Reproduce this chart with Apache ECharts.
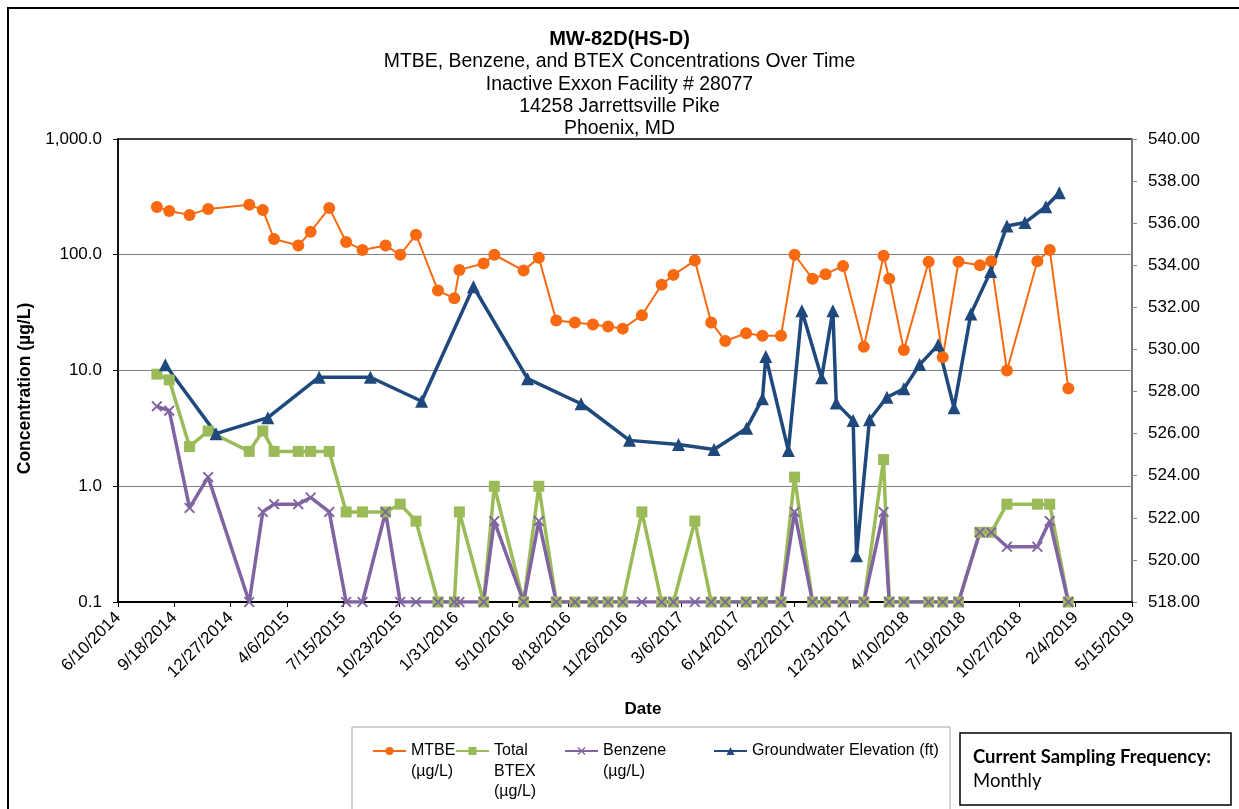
<!DOCTYPE html>
<html>
<head>
<meta charset="utf-8">
<script src="https://cdn.jsdelivr.net/npm/echarts@6/dist/echarts.min.js"></script>
<style>html,body{margin:0;padding:0;background:#fff}#c{width:1239px;height:809px}</style>
</head>
<body>
<div id="c"></div>
<script>
// ---------- data ----------
const sampleDates = ['8/18/2014','9/9/2014','10/15/2014','11/17/2014','1/29/2015','2/22/2015','3/14/2015','4/26/2015','5/18/2015','6/20/2015','7/20/2015','8/18/2015','9/28/2015','10/24/2015','11/21/2015','12/30/2015','1/28/2016','2/6/2016','3/20/2016','4/8/2016','5/30/2016','6/26/2016','7/27/2016','8/29/2016','9/30/2016','10/27/2016','11/22/2016','12/26/2016','1/30/2017','2/20/2017','3/30/2017','4/28/2017','5/23/2017','6/29/2017','7/28/2017','8/30/2017','9/23/2017','10/25/2017','11/17/2017','12/18/2017','1/24/2018','2/28/2018','3/10/2018','4/5/2018','5/19/2018','6/13/2018','7/11/2018','8/18/2018','9/7/2018','10/5/2018','11/28/2018','12/20/2018','1/22/2019'];
const mtbe = [259,239,221,249,270,244,137,120,158,254,129,110,120,100,149,49,42,74,84,100,73,94,27,26,25,24,23,30,55,67,89,26,18,21,20,20,100,62,68,80,16,98,62,15,87,13,87,81,88,10,88,110,7.0];
const totalBtex = [9.3,8.3,2.2,3.0,2.0,3.0,2.0,2.0,2.0,2.0,0.6,0.6,0.6,0.7,0.5,0.1,0.1,0.6,0.1,1.0,0.1,1.0,0.1,0.1,0.1,0.1,0.1,0.6,0.1,0.1,0.5,0.1,0.1,0.1,0.1,0.1,1.2,0.1,0.1,0.1,0.1,1.7,0.1,0.1,0.1,0.1,0.1,0.4,0.4,0.7,0.7,0.7,0.1];
const benzene = [4.9,4.5,0.65,1.2,0.1,0.6,0.7,0.7,0.8,0.6,0.1,0.1,0.6,0.1,0.1,0.1,0.1,0.1,0.1,0.5,0.1,0.5,0.1,0.1,0.1,0.1,0.1,0.1,0.1,0.1,0.1,0.1,0.1,0.1,0.1,0.1,0.6,0.1,0.1,0.1,0.1,0.6,0.1,0.1,0.1,0.1,0.1,0.4,0.4,0.3,0.3,0.5,0.1];
const gwDates = ['9/2/2014','12/1/2014','3/3/2015','6/2/2015','9/1/2015','12/1/2015','3/2/2016','6/6/2016','9/9/2016','12/4/2016','3/1/2017','5/3/2017','6/30/2017','7/28/2017','8/3/2017','9/12/2017','10/6/2017','11/10/2017','11/30/2017','12/6/2017','1/5/2018','1/11/2018','2/3/2018','3/6/2018','4/5/2018','5/3/2018','6/5/2018','7/3/2018','8/2/2018','9/6/2018','10/5/2018','11/6/2018','12/13/2018','1/6/2019'];
const gwElev = [529.27,526.0,526.76,528.68,528.68,527.54,532.98,528.61,527.42,525.68,525.48,525.25,526.26,527.66,529.66,525.2,531.84,528.65,531.84,527.45,526.63,520.2,526.66,527.73,528.13,529.28,530.22,527.23,531.69,533.71,535.87,536.03,536.78,537.45];
const xAxisStart = '6/10/2014';
const xAxisEnd = '5/15/2019';
const xTickDays = 100;
const seriesNames = ['MTBE (µg/L)','Total BTEX (µg/L)','Benzene (µg/L)','Groundwater Elevation (ft)'];
const legendLabels = ['MTBE\n(µg/L)','Total\nBTEX\n(µg/L)','Benzene\n(µg/L)','Groundwater Elevation (ft)'];
const titleText = 'MW-82D(HS-D)';
const subtitleLines = ['MTBE, Benzene, and BTEX Concentrations Over Time','Inactive Exxon Facility # 28077','14258 Jarrettsville Pike','Phoenix, MD'];
const noteTitle = 'Current Sampling Frequency:';
const noteText = 'Monthly';

// ---------- helpers ----------
const DAY = 86400000;
function parseMDY(s){const p=s.split('/').map(Number);return Date.UTC(p[2],p[0]-1,p[1]);}
const base = parseMDY(xAxisStart);
function dayOff(s){return Math.round((parseMDY(s)-base)/DAY);}
function fmtDay(v){const d=new Date(base+Math.round(v)*DAY);return (d.getUTCMonth()+1)+'/'+d.getUTCDate()+'/'+d.getUTCFullYear();}
function fmtConc(v){const s=(Math.round(v*10)/10).toFixed(1);const parts=s.split('.');parts[0]=parts[0].replace(/\B(?=(\d{3})+(?!\d))/g,',');return parts.join('.');}

const FONT = '"Liberation Sans", Arial, sans-serif';
const colors = ['#F76A12','#9BBB59','#8064A2','#1F497D'];
const xSymbol = 'path://M0,1.2L1.2,0L5,3.8L8.8,0L10,1.2L6.2,5L10,8.8L8.8,10L5,6.2L1.2,10L0,8.8L3.8,5Z';

const chart = echarts.init(document.getElementById('c'), null, {renderer:'canvas'});

// legends: one per item; leading blank lines keep the first text line level with the icon
const legendLefts = [372, 455, 564, 713];
const LH = 20.5, ICON_Y = 751;
const legends = legendLabels.map((lab, i) => {
  const n = lab.split('\n').length;
  const shown = n > 1 ? new Array(n).join(' \n') + lab : lab;
  const top = ICON_Y - (2*n-1)*LH/2;
  return {
    data: [seriesNames[i]],
    left: legendLefts[i], top: top, padding: 0,
    itemWidth: 33, itemHeight: 10, itemGap: 0,
    selectedMode: false,
    formatter: () => shown,
    textStyle: {fontFamily: FONT, fontSize: 16, color: '#000', lineHeight: LH}
  };
});

const option = {
  animation: false,
  backgroundColor: '#fff',
  color: colors,
  title: {
    text: titleText,
    subtext: subtitleLines.join('\n'),
    left: 'center', top: 27, itemGap: 0, padding: 0,
    textStyle: {fontFamily: FONT, fontSize: 20, fontWeight: 'bold', color: '#000', lineHeight: 24},
    subtextStyle: {fontFamily: FONT, fontSize: 19.4, color: '#000', lineHeight: 22.2}
  },
  legend: legends,
  grid: {left: 118, right: 107, top: 139, bottom: 207, show: true, borderColor: '#000', borderWidth: 1.5, backgroundColor: 'transparent'},
  xAxis: {
    type: 'value', min: 0, max: dayOff(xAxisEnd), interval: xTickDays,
    name: 'Date', nameLocation: 'middle', nameGap: 99,
    nameTextStyle: {fontFamily: FONT, fontSize: 17, fontWeight: 'bold', color: '#000', padding: [0,0,0,36]},
    axisLine: {show: true, lineStyle: {color: '#000', width: 2}},
    axisTick: {show: true, length: 5, lineStyle: {color: '#000', width: 1}},
    axisLabel: {rotate: 45, margin: 13, fontFamily: FONT, fontSize: 17, color: '#000', formatter: fmtDay, showMinLabel: true, showMaxLabel: true},
    splitLine: {show: false}
  },
  yAxis: [
    {
      type: 'log', logBase: 10, min: 0.1, max: 1000,
      name: 'Concentration (µg/L)', nameLocation: 'middle', nameGap: 77,
      nameTextStyle: {fontFamily: FONT, fontSize: 17.5, fontWeight: 'bold', color: '#000', padding: [0,36,0,0]},
      axisLine: {show: true, lineStyle: {color: '#000', width: 1.5}},
      axisTick: {show: true, length: 5, lineStyle: {color: '#000'}},
      axisLabel: {fontFamily: FONT, fontSize: 17, color: '#000', margin: 16, formatter: fmtConc},
      splitLine: {show: true, showMinLine: false, showMaxLine: false, lineStyle: {color: '#7f7f7f', width: 1}},
      minorTick: {show: false}, minorSplitLine: {show: false}
    },
    {
      type: 'value', min: 518, max: 540, interval: 2, position: 'right',
      axisLine: {show: true, lineStyle: {color: '#8a8a8a', width: 1.5}},
      axisTick: {show: true, length: 5, lineStyle: {color: '#8a8a8a'}},
      axisLabel: {fontFamily: FONT, fontSize: 17, color: '#000', margin: 16, formatter: v => v.toFixed(2)},
      splitLine: {show: false}
    }
  ],
  series: [
    {
      name: seriesNames[0], type: 'line', yAxisIndex: 0,
      data: sampleDates.map((d,i)=>[dayOff(d), mtbe[i]]),
      symbol: 'circle', symbolSize: 12,
      lineStyle: {color: colors[0], width: 2},
      itemStyle: {color: colors[0]}
    },
    {
      name: seriesNames[1], type: 'line', yAxisIndex: 0,
      data: sampleDates.map((d,i)=>[dayOff(d), totalBtex[i]]),
      symbol: 'rect', symbolSize: 11,
      lineStyle: {color: colors[1], width: 3.5},
      itemStyle: {color: colors[1]}
    },
    {
      name: seriesNames[2], type: 'line', yAxisIndex: 0,
      data: sampleDates.map((d,i)=>[dayOff(d), benzene[i]]),
      symbol: xSymbol, symbolSize: 11,
      lineStyle: {color: colors[2], width: 3.5},
      itemStyle: {color: colors[2]}
    },
    {
      name: seriesNames[3], type: 'line', yAxisIndex: 1,
      data: gwDates.map((d,i)=>[dayOff(d), gwElev[i]]),
      symbol: 'triangle', symbolSize: 13,
      lineStyle: {color: colors[3], width: 3.5},
      itemStyle: {color: colors[3]}
    }
  ],
  graphic: [
    {type: 'rect', silent: true, z: -10, shape: {x: 8, y: 8, width: 1300, height: 900}, style: {fill: 'none', stroke: '#000', lineWidth: 2}},
    {type: 'rect', silent: true, z: -10, shape: {x: 352, y: 727, width: 598, height: 140}, style: {fill: 'none', stroke: '#a6a6a6', lineWidth: 1}},
    {type: 'rect', silent: true, z: -10, shape: {x: 960, y: 733, width: 271, height: 72}, style: {fill: 'none', stroke: '#000', lineWidth: 1.5}},
    {type: 'text', silent: true, x: 973, y: 757, style: {text: noteTitle, font: 'bold 18.5px Lato, "Open Sans", sans-serif', fill: '#000', verticalAlign: 'middle'}},
    {type: 'text', silent: true, x: 973, y: 781, style: {text: noteText, font: '18.5px Lato, "Open Sans", sans-serif', fill: '#000', verticalAlign: 'middle'}}
  ]
};
chart.setOption(option);
</script>
</body>
</html>
